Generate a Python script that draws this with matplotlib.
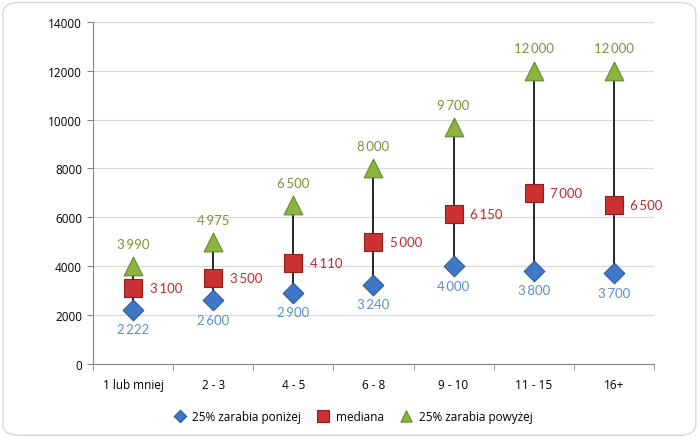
import matplotlib.pyplot as plt
from matplotlib.patches import FancyBboxPatch
import numpy as np

# dane
categories = ['1 lub mniej', '2 - 3', '4 - 5', '6 - 8', '9 - 10', '11 - 15', '16+']
low = [2222, 2600, 2900, 3240, 4000, 3800, 3700]
median = [3100, 3500, 4110, 5000, 6150, 7000, 6500]
high = [3990, 4975, 6500, 8000, 9700, 12000, 12000]

plt.rcParams['font.family'] = ['Open Sans', 'DejaVu Sans']

def fmt(v):
    return f'{v:,}'.replace(',', '\u2009')

fig = plt.figure(figsize=(7, 4.39), dpi=100)
frame = FancyBboxPatch((0.004, 0.006), 0.99, 0.986, boxstyle='round,pad=0,rounding_size=0.025',
                       transform=fig.transFigure, facecolor='white', edgecolor='#d9d9d9', lw=1, zorder=-10)
fig.patches.append(frame)
ax = fig.add_axes([0.133, 0.169, 0.801, 0.779])
ax.set_facecolor('none')

x = np.arange(len(categories))
ax.vlines(x, low, high, color='black', lw=1.2, zorder=2)
ax.scatter(x, low, marker='D', s=110, color='#3f78c8', edgecolor='#2a5a9a', lw=0.8, zorder=3, label='25% zarabia poniżej')
ax.scatter(x, median, marker='s', s=180, color='#cc3030', edgecolor='#8f1e1e', lw=0.8, zorder=3, label='mediana')
ax.scatter(x, high, marker='^', s=180, color='#8cb43e', edgecolor='#5f8a2a', lw=0.8, zorder=3, label='25% zarabia powyżej')

lab = dict(fontsize=9.5, family=['Lato', 'DejaVu Sans'])
for i in x:
    ax.annotate(fmt(low[i]), (i, low[i]), xytext=(0, -14), textcoords='offset points',
                ha='center', va='center', color='#5b8fc9', **lab)
    ax.annotate(fmt(median[i]), (i, median[i]), xytext=(12, 0), textcoords='offset points',
                ha='left', va='center', color='#c0282d', **lab)
    ax.annotate(fmt(high[i]), (i, high[i]), xytext=(0, 16), textcoords='offset points',
                ha='center', va='center', color='#77933c', **lab)

ax.set_xlim(-0.5, len(categories) - 0.5)
ax.set_ylim(0, 14000)
ax.set_yticks(range(0, 14001, 2000))
ax.set_xticks(x)
ax.set_xticklabels(categories)
ax.set_xticks(np.arange(-0.5, len(categories)), minor=True)
ax.tick_params(axis='x', which='major', length=0, pad=10, labelsize=8.5)
ax.tick_params(axis='x', which='minor', length=4, color='#868686')
ax.tick_params(axis='y', length=4, color='#868686', labelsize=8.5, pad=4)
ax.grid(axis='y', color='#d9d9d9', lw=0.9)
ax.set_axisbelow(True)
for s in ['top', 'right']:
    ax.spines[s].set_visible(False)
for s in ['left', 'bottom']:
    ax.spines[s].set_color('#868686')

leg = fig.legend(loc='center', bbox_to_anchor=(0.5, 0.05), ncol=3, frameon=False, fontsize=8.5,
                 handletextpad=0.05, columnspacing=0.9, markerscale=0.6)

fig.savefig('out.png', dpi=100)
